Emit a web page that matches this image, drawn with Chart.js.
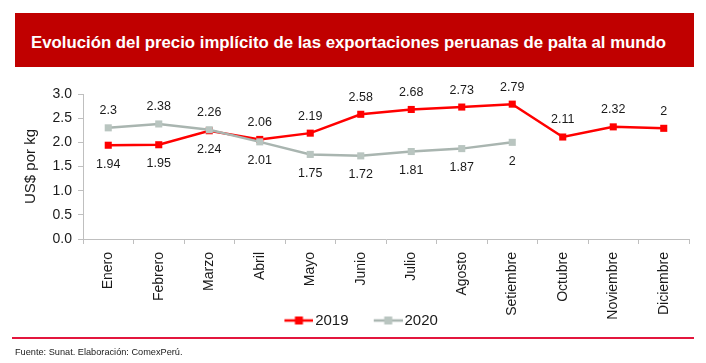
<!DOCTYPE html>
<html>
<head>
<meta charset="utf-8">
<script src="https://cdn.jsdelivr.net/npm/chart.js@4"></script>
<style>
  html, body { margin: 0; padding: 0; background: #ffffff; }
  body { width: 706px; height: 363px; position: relative; overflow: hidden; font-family: "Liberation Sans", Arial, sans-serif; }
  #wrap { position: absolute; left: 0; top: 0; width: 706px; height: 363px; }
  #titlebar { position: absolute; left: 15px; top: 13px; width: 679px; height: 54px; background: #C00000; }
  #titlebar span { position: absolute; left: 16px; top: 20px; color: #ffffff; font-weight: bold; font-size: 16.8px; line-height: 20px; white-space: nowrap; }
  #rule { position: absolute; left: 12px; top: 337px; width: 682px; height: 2px; background: #E3163D; }
  #source { position: absolute; left: 15px; top: 346px; font-size: 9.2px; line-height: 12px; color: #1a1a1a; white-space: nowrap; }
</style>
</head>
<body>
<div id="wrap"><canvas id="c" width="706" height="363"></canvas></div>
<div id="titlebar"><span>Evolución del precio implícito de las exportaciones peruanas de palta al mundo</span></div>
<div id="rule"></div>
<div id="source">Fuente: Sunat. Elaboración: ComexPerú.</div>
<script>
const months = ['Enero','Febrero','Marzo','Abril','Mayo','Junio','Julio','Agosto','Setiembre','Octubre','Noviembre','Diciembre'];
const series2019 = [1.94, 1.95, 2.24, 2.06, 2.19, 2.58, 2.68, 2.73, 2.79, 2.11, 2.32, 2.29];
const labels2019 = ['1.94','1.95','2.24','2.06','2.19','2.58','2.68','2.73','2.79','2.11','2.32','2'];
const series2020 = [2.3, 2.38, 2.26, 2.01, 1.75, 1.72, 1.81, 1.87, 2.0, null, null, null];
const labels2020 = ['2.3','2.38','2.26','2.01','1.75','1.72','1.81','1.87','2'];
const yTicks = [0, 0.5, 1.0, 1.5, 2.0, 2.5, 3.0];

const RED = '#FF0000';
const GREY_LINE = '#A9B5B0';
const GREY_MARK = '#B9C5C0';

function legendIcon(lineColor, markColor) {
  const cv = document.createElement('canvas');
  cv.width = 58; cv.height = 10;
  const g = cv.getContext('2d');
  g.strokeStyle = lineColor; g.lineWidth = 2.5;
  g.beginPath(); g.moveTo(29, 5); g.lineTo(58, 5); g.stroke();
  g.fillStyle = markColor;
  g.fillRect(39.5, 1, 8, 8);
  return cv;
}
const icons = [legendIcon(RED, RED), legendIcon(GREY_LINE, GREY_MARK)];
const textSets = [labels2019, labels2020];
const valueSets = [series2019, series2020];

const dataLabels = {
  id: 'dataLabels',
  afterDatasetsDraw(chart) {
    const ctx = chart.ctx;
    ctx.save();
    ctx.font = '12.5px "Liberation Sans", Arial, sans-serif';
    ctx.fillStyle = '#1a1a1a';
    ctx.textAlign = 'center';
    ctx.textBaseline = 'middle';
    chart.data.datasets.forEach((ds, di) => {
      const meta = chart.getDatasetMeta(di);
      const mine = valueSets[di];
      const other = valueSets[1 - di];
      meta.data.forEach((pt, i) => {
        if (mine[i] == null) return;
        const o = other[i];
        const above = (o == null) || (mine[i] >= o) ? (di === 1 && i === 8 ? false : true) : false;
        const y = above ? pt.y - 17 : pt.y + 19;
        ctx.fillText(textSets[di][i], pt.x, y);
      });
    });
    ctx.restore();
  }
};

// Let the legend sit a little into the space below the rotated month labels, as in the original.
const legendLift = {
  id: 'legendLift',
  afterLayout(chart) {
    const lg = chart.legend;
    if (lg) { lg.top -= 10; lg.bottom -= 10; }
  }
};

new Chart(document.getElementById('c'), {
  type: 'line',
  data: {
    labels: months,
    datasets: [
      { label: '2019', data: series2019, borderColor: RED, backgroundColor: RED, borderWidth: 2.5,
        pointStyle: 'rect', pointRadius: 5, pointBorderWidth: 0, pointBackgroundColor: RED, order: 2, tension: 0 },
      { label: '2020', data: series2020, borderColor: GREY_LINE, backgroundColor: GREY_MARK, borderWidth: 2.5,
        pointStyle: 'rect', pointRadius: 5, pointBorderWidth: 0, pointBackgroundColor: GREY_MARK, order: 1, tension: 0 }
    ]
  },
  options: {
    responsive: false,
    animation: false,
    events: [],
    layout: { padding: { top: 94, left: 10, right: 17, bottom: 15 } },
    plugins: {
      tooltip: { enabled: false },
      legend: {
        position: 'bottom',
        labels: {
          usePointStyle: true,
          pointStyleWidth: 46.5,
          padding: 2,
          color: '#1a1a1a',
          font: { size: 15, family: '"Liberation Sans", Arial, sans-serif' },
          sort: (a, b) => a.datasetIndex - b.datasetIndex,
          generateLabels(chart) {
            const items = Chart.defaults.plugins.legend.labels.generateLabels(chart);
            items.forEach(it => { it.pointStyle = icons[it.datasetIndex]; });
            return items;
          }
        }
      }
    },
    scales: {
      x: {
        offset: true,
        grid: { display: true, offset: true, drawOnChartArea: false, drawTicks: true, tickLength: 5, color: '#BFBFBF' },
        border: { color: '#BFBFBF', width: 1 },
        ticks: { autoSkip: false, maxRotation: 90, minRotation: 90, padding: 8, color: '#1a1a1a',
                 font: { size: 14, family: '"Liberation Sans", Arial, sans-serif' } },
        afterFit(scale) { scale.height = 82; }
      },
      y: {
        min: 0, max: 3,
        afterBuildTicks(scale) { scale.ticks = yTicks.map(v => ({ value: v })); },
        grid: { display: true, drawOnChartArea: false, drawTicks: true, tickLength: 5, color: '#BFBFBF' },
        border: { color: '#BFBFBF', width: 1 },
        ticks: { padding: 6, color: '#1a1a1a', font: { size: 14, family: '"Liberation Sans", Arial, sans-serif' },
                 callback: (v) => Number(v).toFixed(1) },
        title: { display: true, text: 'US$ por kg', color: '#1a1a1a', padding: { top: 12, bottom: 0 },
                 font: { size: 15, family: '"Liberation Sans", Arial, sans-serif' } },
        afterFit(scale) { scale.width = 73; }
      }
    }
  },
  plugins: [dataLabels, legendLift]
});
</script>
</body>
</html>
